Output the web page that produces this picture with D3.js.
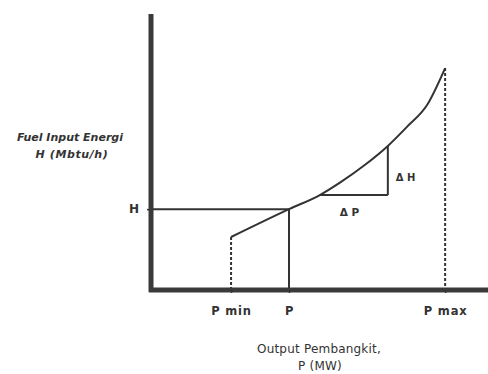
<!DOCTYPE html>
<html>
<head>
<meta charset="utf-8">
<script src="https://cdn.jsdelivr.net/npm/d3@7"></script>
<style>
  body { margin: 0; background: #fff; }
  text { font-family: "DejaVu Sans", sans-serif; fill: #333; }
</style>
</head>
<body>
<script>
// chart size, same as reference
const W = 488, H = 374;

// fuel curve (output P, input H), arbitrary units 0..100
const curveP = [23.9, 41.2, 50.4, 56.4, 63.5, 70.7, 76.4, 82.4, 87.8];
const curveH = [19.2, 29.3, 34.4, 38.9, 45.0, 52.2, 59.1, 67.0, 80.4];

// marked points on the axes
const pTicks = [23.9, 41.2, 87.8];
const pLabels = ["P min", "P", "P max"];
const hTick = 29.3;
const hLabel = "H";

// increment triangle: from (P1,H1) to (P2,H2)
const triP = [50.4, 70.7];
const triH = [34.4, 52.2];

const x = d3.scaleLinear().domain([0, 100]).range([151, 486]);
const y = d3.scaleLinear().domain([0, 100]).range([290, 14]);

const svg = d3.select("body").append("svg")
  .attr("width", W).attr("height", H);

const ink = "#333";

// helper for plain lines
function seg(x1, y1, x2, y2, dash) {
  svg.append("line")
    .attr("x1", x1).attr("y1", y1).attr("x2", x2).attr("y2", y2)
    .attr("stroke", ink).attr("stroke-width", 2)
    .attr("stroke-dasharray", dash || null);
}

// H horizontal and P vertical
seg(x(0), y(hTick), x(pTicks[1]), y(hTick));
seg(x(pTicks[1]), y(hTick), x(pTicks[1]), y(0));
// Pmin, Pmax dashed
seg(x(pTicks[0]), y(curveH[0]), x(pTicks[0]), y(0), "3,2");
seg(x(pTicks[2]), y(curveH[curveH.length - 1]), x(pTicks[2]), y(0), "3,2");

// triangle
seg(x(triP[0]), y(triH[0]), x(triP[1]), y(triH[0]));
seg(x(triP[1]), y(triH[0]), x(triP[1]), y(triH[1]));

// curve
const pts = curveP.map((p, i) => [p, curveH[i]]);
svg.append("path")
  .datum(pts)
  .attr("fill", "none")
  .attr("stroke", ink)
  .attr("stroke-width", 2)
  .attr("d", d3.line().x(d => x(d[0])).y(d => y(d[1])).curve(d3.curveMonotoneX));

// axes
const xAxis = svg.append("g")
  .attr("transform", `translate(0,${y(0)})`)
  .call(d3.axisBottom(x).tickValues(pTicks).tickSize(3).tickFormat((d, i) => pLabels[i]).tickSizeOuter(0));
const yAxis = svg.append("g")
  .attr("transform", `translate(${x(0)},0)`)
  .call(d3.axisLeft(y).tickValues([hTick]).tickSize(4).tickFormat(() => hLabel).tickSizeOuter(0));

[xAxis, yAxis].forEach(g => {
  g.select(".domain").attr("stroke", "#3a3a3a").attr("stroke-width", 5);
  g.selectAll(".tick line").attr("stroke", ink).attr("stroke-width", 1.5);
  g.selectAll(".tick text")
    .attr("font-family", "DejaVu Sans, sans-serif")
    .attr("font-size", 11.5).attr("font-weight", "bold").attr("fill", "#333");
});
xAxis.select(".domain").attr("d", `M${x(0) - 2},0H${W}`);
yAxis.select(".domain").attr("d", `M0,${y(100)}V${y(0) + 2}`);
xAxis.selectAll(".tick text").attr("y", 25).attr("dy", 0).attr("letter-spacing", 0.8);
yAxis.selectAll(".tick text").attr("x", -12).attr("font-family", "Liberation Serif, serif").attr("font-size", 12);

// delta labels
svg.append("text").text("\u0394 H")
  .attr("x", x(triP[1]) + 8).attr("y", (y(triH[0]) + y(triH[1])) / 2 + 11)
  .attr("font-size", 10).attr("font-weight", "bold");
svg.append("text").text("\u0394 P")
  .attr("x", (x(triP[0]) + x(triP[1])) / 2 - 14).attr("y", y(triH[0]) + 21)
  .attr("font-size", 10.5).attr("font-weight", "bold");

// axis titles
const yTitle = svg.append("text")
  .attr("text-anchor", "middle")
  .attr("font-size", 11).attr("font-weight", "bold").attr("font-style", "italic");
yTitle.append("tspan").attr("x", 70).attr("y", 141).text("Fuel Input Energi");
yTitle.append("tspan").attr("x", 72).attr("y", 158).attr("letter-spacing", 0.6).text("H (Mbtu/h)");

const xTitle = svg.append("text")
  .attr("text-anchor", "middle")
  .attr("font-size", 12).attr("letter-spacing", 0.2);
xTitle.append("tspan").attr("x", 319).attr("y", 353).text("Output Pembangkit,");
xTitle.append("tspan").attr("x", 320).attr("y", 370).text("P (MW)");
</script>
</body>
</html>
